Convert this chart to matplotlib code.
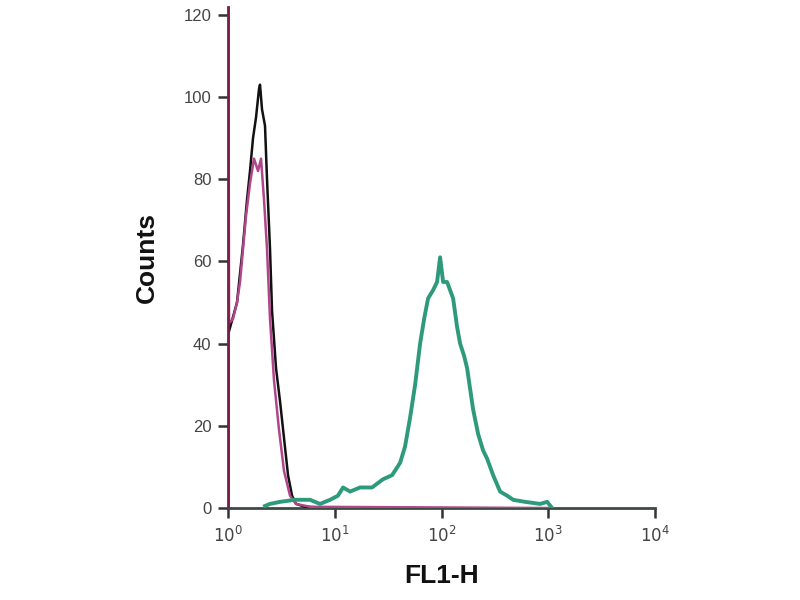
import matplotlib
matplotlib.use("Agg")
import matplotlib.pyplot as plt

# Isotype / control (pink) histogram
pink_x = [1.0, 1.0, 1.022, 1.114, 1.214, 1.296, 1.382, 1.474, 1.607, 1.752, 1.910,
          2.038, 2.174, 2.319, 2.474, 2.697, 3.005, 3.346, 3.809, 4.335, 5.86, 1000]
pink_y = [0, 200, 45, 46, 50, 55, 63, 71, 79, 85, 82,
          85, 75, 63, 46, 31, 19, 9, 3, 1, 0.3, 0]

# Unstained / black histogram
black_x = [1.022, 1.214, 1.382, 1.507, 1.607, 1.715, 1.829, 1.952, 1.994, 2.082,
           2.221, 2.319, 2.474, 2.584, 2.817, 3.069, 3.346, 3.648, 3.978, 4.335,
           5.263, 9.03]
black_y = [43, 50, 64, 75, 82, 90, 95, 102, 103, 97,
           93, 80, 63, 48, 34, 26, 17, 8, 3, 1,
           0.3, 0]

# Stained / green histogram
green_x = [2.22, 2.47, 3.07, 4.24, 5.86, 7.27, 9.03, 10.7, 11.95, 13.9, 17.2, 22.3,
           28.3, 34.4, 40.9, 45.5, 50.7, 56.5, 62.9, 68.6, 74.7, 83.2, 90.7, 96.8,
           103.3, 112.6, 120.1, 128.2, 139.7, 149.1, 162.5, 173.4, 184.9, 197.3,
           219.8, 244.8, 266.9, 303.7, 353.2, 410.9, 467.6, 605.6, 837, 973, 1084]
green_y = [0.5, 1, 1.5, 2, 2, 1, 2, 3, 5, 4, 5, 5,
           7, 8, 11, 15, 22, 30, 40, 46, 51, 53, 55, 61,
           55, 55, 53, 51, 44, 40, 37, 34, 29, 24,
           18, 14, 12, 8, 4, 3, 2, 1.5, 1, 1.5, 0]

y_ticks = [0, 20, 40, 60, 80, 100, 120]
x_ticks = [1, 10, 100, 1000, 10000]
x_tick_labels = [r"$10^0$", r"$10^1$", r"$10^2$", r"$10^3$", r"$10^4$"]

plt.rcParams['font.family'] = ['Liberation Sans Narrow', 'Liberation Sans', 'DejaVu Sans']

fig = plt.figure(figsize=(8, 6), dpi=100)
ax = fig.add_axes([0.285, 0.1533, 0.534, 0.8357])

ax.plot(black_x, black_y, color="#111111", lw=1.8, zorder=3)
ax.plot(pink_x, pink_y, color="#b0468a", lw=1.8, zorder=4)
ax.plot(green_x, green_y, color="#2e9a7c", lw=2.8, zorder=5)
# strong first-bin vertical line of pink histogram
ax.plot([1.0, 1.0], [0, 200], color="#7a1d48", lw=2.6, zorder=6)

ax.set_xscale("log")
ax.set_xlim(1, 10000)
ax.set_ylim(0, 122)
ax.set_xticks(x_ticks)
ax.set_xticklabels(x_tick_labels)
ax.minorticks_off()
ax.set_yticks(y_ticks)

for s in ["top", "right"]:
    ax.spines[s].set_visible(False)
ax.spines["left"].set_color("#7a1d48")
ax.spines["left"].set_linewidth(2)
ax.spines["bottom"].set_color("#3d4a44")
ax.spines["bottom"].set_linewidth(2)

ax.tick_params(axis="both", direction="out", length=7, width=1.8, color="#333333",
               labelcolor="#444444", labelsize=12, pad=5)

ax.set_ylabel("Counts", fontsize=19, fontweight="bold", family=['Liberation Sans', 'DejaVu Sans'],
              labelpad=18, color="#111111")
ax.set_xlabel("FL1-H", fontsize=19, fontweight="bold", family=['Liberation Sans', 'DejaVu Sans'],
              labelpad=14, color="#111111")

fig.savefig("out.png", dpi=100)
